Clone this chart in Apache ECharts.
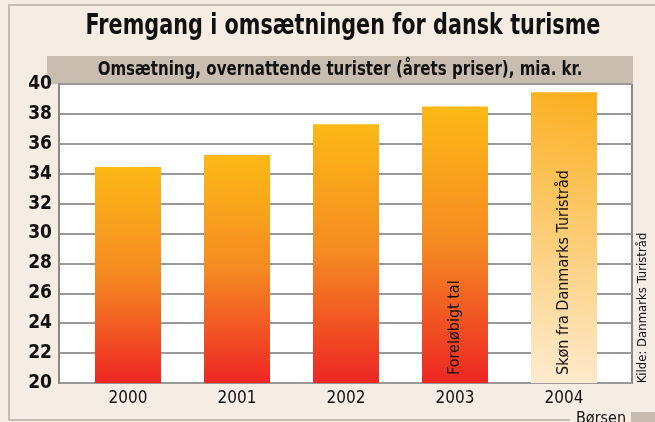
<!DOCTYPE html>
<html>
<head>
<meta charset="utf-8">
<script src="https://cdn.jsdelivr.net/npm/echarts@6/dist/echarts.min.js"></script>
<style>
html,body{margin:0;padding:0;background:#f5ede3;}
#chart{width:655px;height:422px;}
</style>
</head>
<body>
<div id="chart"></div>
<script>
const years = ["2000", "2001", "2002", "2003", "2004"];
const revenue = [34.45, 35.25, 37.3, 38.5, 39.45];
const barNotes = ["", "", "", "Foreløbigt tal", "Skøn fra Danmarks Turistråd"];
const yTicks = [20, 22, 24, 26, 28, 30, 32, 34, 36, 38, 40];
const titleText = "Fremgang i omsætningen for dansk turisme";
const subtitleText = "Omsætning, overnattende turister (årets priser), mia. kr.";
const sourceText = "Kilde: Danmarks Turistråd";
const brandText = "Børsen";

const FONT = '"DejaVu Sans Condensed", "Liberation Sans", sans-serif';
const chart = echarts.init(document.getElementById('chart'), null, {renderer: 'canvas'});

const redGrad = new echarts.graphic.LinearGradient(0, 0, 0, 1, [
  {offset: 0, color: '#fcb916'},
  {offset: 0.5, color: '#f58a22'},
  {offset: 1, color: '#ee2624'}
]);
const paleGrad = new echarts.graphic.LinearGradient(1, 0, 0, 1, [
  {offset: 0, color: '#fbae1c'},
  {offset: 1, color: '#fdecd2'}
]);

const barData = revenue.map((v, i) => ({
  value: v,
  itemStyle: {color: i === revenue.length - 1 ? paleGrad : redGrad}
}));

const option = {
  backgroundColor: '#f5ede3',
  animation: false,
  textStyle: {fontFamily: FONT},
  grid: [
    {left: 59, right: 23, top: 84, bottom: 39, show: true, backgroundColor: '#ffffff', borderColor: '#8c8884', borderWidth: 2},
    {left: 73.5, right: 36.5, top: 84, bottom: 39}
  ],
  xAxis: [
    {gridIndex: 0, type: 'value', min: 0, max: 1, show: false},
    {gridIndex: 1, type: 'category', data: years,
     axisLine: {show: false}, axisTick: {show: false},
     axisLabel: {fontFamily: FONT, fontSize: 17, color: '#111', margin: 7}}
  ],
  yAxis: [
    {gridIndex: 0, type: 'value', min: yTicks[0], max: yTicks[yTicks.length - 1], interval: yTicks[1] - yTicks[0],
     axisLine: {show: true, lineStyle: {color: '#8c8884', width: 2}},
     axisTick: {show: false},
     splitLine: {show: true, lineStyle: {color: '#999999', width: 2}},
     axisLabel: {fontFamily: FONT, fontSize: 19, fontWeight: 'bold', color: '#111', margin: 7}},
    {gridIndex: 1, type: 'value', min: yTicks[0], max: yTicks[yTicks.length - 1], show: false}
  ],
  series: [{
    type: 'bar',
    xAxisIndex: 1, yAxisIndex: 1,
    barWidth: 66,
    data: barData,
    label: {
      show: true,
      position: 'insideBottom',
      rotate: 90,
      align: 'left',
      verticalAlign: 'middle',
      distance: 8,
      fontFamily: FONT,
      fontSize: 16,
      color: '#111',
      formatter: p => barNotes[p.dataIndex]
    }
  }],
  graphic: [
    {type: 'rect', shape: {x: 8, y: 4, width: 647, height: 2}, style: {fill: '#c8bcb0'}, silent: true},
    {type: 'rect', shape: {x: 8, y: 4, width: 2, height: 417}, style: {fill: '#c8bcb0'}, silent: true},
    {type: 'rect', shape: {x: 8, y: 419, width: 562, height: 2}, style: {fill: '#c8bcb0'}, silent: true},
    {type: 'rect', shape: {x: 631, y: 412, width: 24, height: 10}, style: {fill: '#c8bcb0'}, silent: true},
    {type: 'rect', shape: {x: 47, y: 56, width: 586, height: 28}, style: {fill: '#c9bdb0'}, silent: true},
    {type: 'text', x: 343, y: 27, scaleX: 0.825, style: {text: titleText, font: 'bold 28px ' + FONT, fill: '#111', align: 'center', verticalAlign: 'middle'}},
    {type: 'text', x: 340, y: 70, scaleX: 0.88, style: {text: subtitleText, font: 'bold 19px ' + FONT, fill: '#111', align: 'center', verticalAlign: 'middle'}},
    {type: 'text', x: 643, y: 308, rotation: Math.PI / 2, style: {text: sourceText, font: '13px ' + FONT, fill: '#111', align: 'center', verticalAlign: 'middle'}},
    {type: 'text', x: 601, y: 419, style: {text: brandText, font: '16px ' + FONT, fill: '#111', align: 'center', verticalAlign: 'middle'}}
  ]
};
chart.setOption(option);
</script>
</body>
</html>
